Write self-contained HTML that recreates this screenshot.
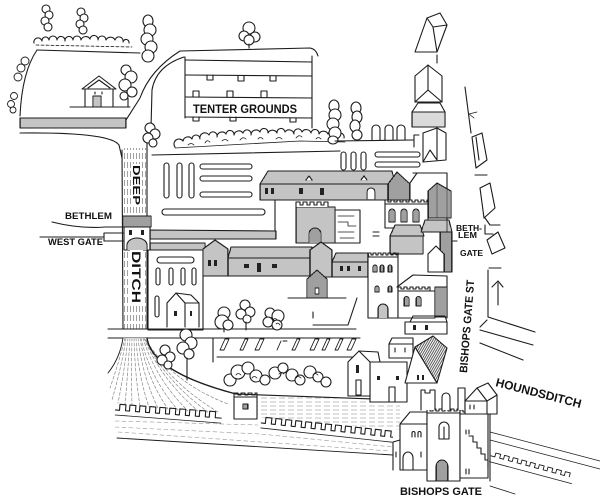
<!DOCTYPE html>
<html><head><meta charset="utf-8">
<style>
html,body{margin:0;padding:0;background:#fff;width:600px;height:504px;overflow:hidden}
svg{display:block}
.t{font-family:"Liberation Sans",Arial,sans-serif;font-weight:bold;fill:#111;stroke:none}
</style></head><body>
<svg width="600" height="504" viewBox="0 0 600 504" xmlns="http://www.w3.org/2000/svg">
<defs>
 <pattern id="hv" width="2" height="8" patternUnits="userSpaceOnUse"><rect width="2" height="8" fill="#fff"/><line x1="1" y1="0" x2="1" y2="8" stroke="#555" stroke-width="0.7"/></pattern>
 <pattern id="hd" width="2" height="8" patternUnits="userSpaceOnUse"><rect width="2" height="8" fill="#fff"/><line x1="1" y1="0" x2="1" y2="8" stroke="#2a2a2a" stroke-width="0.9"/></pattern>
 <pattern id="hf" width="2" height="8" patternUnits="userSpaceOnUse"><rect width="2" height="8" fill="#fff"/><line x1="1" y1="0" x2="1" y2="8" stroke="#3a3a3a" stroke-width="0.6"/></pattern>
 <pattern id="hx" width="2" height="8" patternUnits="userSpaceOnUse" patternTransform="rotate(30)"><rect width="2" height="8" fill="#fff"/><line x1="1" y1="0" x2="1" y2="8" stroke="#333" stroke-width="0.8"/></pattern>
 <pattern id="hdash" width="3" height="9" patternUnits="userSpaceOnUse"><rect width="3" height="9" fill="#fff"/><line x1="1.5" y1="0" x2="1.5" y2="6" stroke="#777" stroke-width="0.7"/></pattern>
 <pattern id="wl" width="9" height="4" patternUnits="userSpaceOnUse"><rect width="9" height="4" fill="#fff"/><line x1="0" y1="2" x2="6" y2="2" stroke="#999" stroke-width="0.6"/></pattern>
</defs>
<rect width="600" height="504" fill="#fff"/>
<g fill="none" stroke="#1c1c1c" stroke-width="1.1" stroke-linecap="round" stroke-linejoin="round">

<!-- top-left shrubs and trees -->
<path d="M34,43 a4,4 0 0 1 8,-2 a3,3 0 0 1 7,-1 a4,4 0 0 1 8,0 a4,4 0 0 1 8,1 a4,4 0 0 1 8,-1 a4,4 0 0 1 8,0 a5,5 0 0 1 9,-1 a4,4 0 0 1 8,1 a4,4 0 0 1 8,0 a5,5 0 0 1 9,0 a4,4 0 0 1 8,2 a3,3 0 0 1 6,1"/>
<path d="M36,45 L132,47" stroke-dasharray="3 2" stroke-width="0.8"/>
<g fill="#fff">
<circle cx="46" cy="9" r="4"/><circle cx="49" cy="15" r="4"/><circle cx="45" cy="21" r="4"/><circle cx="48" cy="27" r="4"/>
<circle cx="81" cy="12" r="4"/><circle cx="84" cy="18" r="4"/><circle cx="80" cy="24" r="4"/><circle cx="83" cy="30" r="4"/>
</g>
<path d="M37,50 L140,53"/>
<path d="M37,50 Q22,72 20,116"/>
<g fill="#fff" stroke-width="0.9">
<circle cx="25" cy="61" r="4"/><circle cx="21" cy="68" r="4"/><circle cx="18" cy="77" r="4"/><circle cx="14" cy="96" r="3.5"/><circle cx="11" cy="104" r="3.5"/><circle cx="13" cy="110" r="3"/>
</g>

<!-- house -->
<path d="M70,107 L130,107"/>
<rect x="85" y="88" width="28" height="19" fill="#fff"/>
<path d="M82,89 L99,76 L116,89 Z" fill="#fff"/>
<path d="M88,88 L99,80 L110,88"/>
<rect x="93" y="96" width="8" height="11" fill="url(#hv)"/>
<path d="M95,92 v2 M102,92 v2"/>
<g fill="#fff"><circle cx="126" cy="70" r="5"/><circle cx="131" cy="77" r="6"/><circle cx="125" cy="85" r="6"/><circle cx="132" cy="92" r="5"/><circle cx="124" cy="96" r="4"/></g>
<path d="M128,98 L128,107"/>

<!-- fence -->
<rect x="20" y="118" width="106" height="10" fill="url(#hf)"/>

<!-- roads -->
<path d="M20,133 Q110,132 119,145 L122,158"/>
<path d="M126,120 L140,98 Q150,70 180,51 L310,48 Q316,49 318,56"/>
<path d="M151,128 L152,90 Q156,66 184,57"/>
<g fill="#fff"><ellipse cx="148" cy="21" rx="5" ry="6"/><ellipse cx="150" cy="30" rx="6" ry="6"/><ellipse cx="147" cy="39" rx="6" ry="6"/><ellipse cx="151" cy="47" rx="6" ry="6"/><ellipse cx="148" cy="56" rx="6" ry="6"/></g>

<!-- ditch -->
<rect x="123" y="148" width="24" height="181" fill="url(#hdash)" stroke="none"/>
<path d="M122,150 L123,329"/>
<path d="M147,138 L147,329"/>
<g fill="#fff"><circle cx="150" cy="128" r="5"/><circle cx="155" cy="134" r="5"/><circle cx="148" cy="138" r="5"/><circle cx="153" cy="143" r="4"/></g>

<!-- gate on ditch -->
<rect x="123" y="216" width="28" height="11" fill="url(#hd)"/>
<rect x="124" y="227" width="26" height="23" fill="#fff"/>
<path d="M127,250 v-5 a10,7 0 0 1 20,0 v5" fill="url(#hv)"/>
<g fill="#222" stroke="none"><rect x="129" y="230" width="3" height="5"/><rect x="141" y="230" width="3" height="5"/></g>
<path d="M52,222 Q80,229 105,227 L123,227"/>
<path d="M40,237 L104,237 M104,233 h19 M104,241 h19 M104,233 v8"/>

<!-- tenter grounds -->
<path d="M185,57 L185,118"/>
<path d="M185,60 L312,62 M186,75 L312,76 M186,97 L312,98 M185,117 L312,118 M312,56 L312,128"/>
<path d="M207,75 v5 h6 v-5 M238,76 v5 h6 v-5 M270,76 v5 h6 v-5"/>
<path d="M193,97 v-6 h6 v6 M227,97 v-6 h6 v6 M261,97 v-6 h6 v6"/>
<path d="M193,117 v4 h6 v-4 M230,117 v4 h6 v-4 M290,118 v4 h6 v-4"/>
<g fill="#fff"><circle cx="249" cy="28" r="6"/><circle cx="244" cy="36" r="5"/><circle cx="255" cy="37" r="5"/><circle cx="249" cy="40" r="5"/></g>
<path d="M249,44 L249,48"/>

<!-- shrub row -->
<path d="M175,147 a5,5 0 0 1 8,-6 a5,5 0 0 1 9,-2 a4,4 0 0 1 8,0 a5,5 0 0 1 9,-4 a4,4 0 0 1 8,2 a5,5 0 0 1 9,-3 a4,4 0 0 1 8,1 a5,5 0 0 1 9,-2 a4,4 0 0 1 8,2 a5,5 0 0 1 9,-3 a4,4 0 0 1 8,1 a5,5 0 0 1 9,0 a4,4 0 0 1 8,-1 a5,5 0 0 1 9,2 a4,4 0 0 1 8,-2 a5,5 0 0 1 9,1 a4,4 0 0 1 8,1 a5,5 0 0 1 9,0 a4,4 0 0 1 8,2 a4,4 0 0 1 8,2"/>
<path d="M188,145 q3,-3 6,0 M205,143 q2,-4 5,-1 M222,141 q3,-3 6,0 M240,140 q3,-4 6,-1 M258,139 q2,-3 5,0 M276,139 q3,-3 6,0 M296,138 q3,-4 6,-1 M316,139 q2,-3 5,0" stroke-width="0.8"/>
<path d="M175,148 L300,141 L345,142" stroke-width="0.8"/>
<g fill="#fff">
<ellipse cx="334" cy="106" rx="5" ry="6"/><ellipse cx="335" cy="115" rx="6" ry="6"/><ellipse cx="333" cy="124" rx="6" ry="6"/><ellipse cx="335" cy="133" rx="6" ry="6"/><ellipse cx="333" cy="140" rx="5" ry="4"/>
<ellipse cx="356" cy="108" rx="5" ry="6"/><ellipse cx="357" cy="117" rx="5" ry="6"/><ellipse cx="355" cy="126" rx="5" ry="6"/><ellipse cx="357" cy="135" rx="5" ry="5"/>
</g>
<path d="M372,140 v-11 a4,4 0 0 1 8,0 v11 M385,140 v-11 a4,4 0 0 1 8,0 v11 M397,140 v-11 a4,4 0 0 1 8,0 v11"/>
<path d="M335,141 L413,140"/>
<path d="M414,147 v-12 h5"/>
<path d="M152,155 L340,151"/>
<rect x="375" y="152" width="45" height="5" rx="2.5"/>
<rect x="375" y="162" width="45" height="5" rx="2.5"/>
<rect x="341" y="152" width="5" height="18" rx="2.5"/>
<rect x="351" y="152" width="5" height="18" rx="2.5"/>
<rect x="361" y="152" width="5" height="18" rx="2.5"/>

<!-- left field -->
<rect x="164" y="163" width="5" height="35" rx="2.5"/>
<rect x="177" y="163" width="5" height="35" rx="2.5"/>
<rect x="189" y="163" width="5" height="35" rx="2.5"/>
<rect x="200" y="164" width="52" height="5" rx="2.5"/>
<rect x="200" y="176" width="52" height="5" rx="2.5"/>
<rect x="200" y="192" width="52" height="5" rx="2.5"/>
<rect x="162" y="209" width="103" height="6" rx="3"/>
<path d="M275,200 L275,231"/>
<path d="M150,230 L276,231 L276,239 L150,239 Z" fill="url(#hv)"/>
<path d="M150,243 L205,243 L205,250 L150,250 Z" fill="url(#hv)"/>

<!-- big building -->
<path d="M260,184 L268,171 L392,171 L395,184 Z" fill="url(#hv)"/>
<rect x="260" y="184" width="128" height="16" fill="url(#hv)"/>
<path d="M388,200 L388,184 L397,172 L410,184 L410,200 Z" fill="url(#hd)"/>
<g fill="#222" stroke="none"><rect x="265" y="188" width="3" height="6"/><rect x="271" y="188" width="3" height="6"/><rect x="299" y="188" width="4" height="6"/><rect x="320" y="188" width="4" height="7"/></g>
<path d="M367,199 v-7 a4,4 0 0 1 8,0 v7" fill="#fff"/>
<path d="M306,180 l3,-4 l3,4 M361,180 l3,-4 l3,4" fill="#fff"/>

<!-- gatehouse -->
<rect x="296" y="207" width="39" height="36" fill="url(#hv)"/>
<path d="M296,207 v-5 h4 v3 h3 v-3 h4 v3 h3 v-3 h4 v3 h3 v-3 h4 v3 h3 v-3 h4 v5" fill="#fff"/>
<path d="M309,243 v-9 a6,6 0 0 1 12,0 v9" fill="url(#hd)"/>
<rect x="335" y="210" width="25" height="33" fill="#fff"/>
<path d="M338,216 h16 M338,222 h10 v4 h8 M338,232 h16 M340,238 h14" stroke-width="0.8"/>

<!-- crenellated church -->
<rect x="385" y="204" width="43" height="24" fill="#fff"/>
<path d="M385,204 v-4 h3 v2 h3 v-2 h3 v2 h3 v-2 h3 v2 h3 v-2 h3 v2 h3 v-2 h3 v2 h3 v-2 h3 v2 h3 v-2 h3 v2 h3 v-2 h1 v4"/>
<path d="M389,222 v-10 a3,3 0 0 1 6,0 v10 z M401,222 v-10 a3,3 0 0 1 6,0 v10 z M413,222 v-10 a3,3 0 0 1 6,0 v10 z" fill="url(#hd)"/>
<path d="M428,218 L428,191 L437,183 L451,191 L451,218 Z" fill="url(#hd)"/>
<path d="M437,183 L437,218"/>
<path d="M373,232 h6 M373,236 h6"/>
<path d="M390,236 L395,225 L420,225 L424,236 Z" fill="url(#hv)"/>
<rect x="390" y="236" width="33" height="18" fill="url(#hv)"/>
<path d="M421,232 L425,220 L449,220 L452,232 Z" fill="url(#hv)"/>
<path d="M440,232 L452,232 L452,272 L440,272 Z" fill="url(#hd)"/>
<path d="M428,272 L428,254 L436,246 L444,254 L444,272 Z" fill="#fff"/>
<path d="M413,173 L447,173 M410,183 L417,173 M447,173 L447,232"/>

<!-- long building -->
<path d="M203,276 L203,249 L215,240 L228,249 L228,276 Z" fill="url(#hv)"/>
<path d="M228,258 L231,247 L312,247 L312,258 Z" fill="url(#hv)"/>
<rect x="228" y="258" width="82" height="18" fill="url(#hv)"/>
<path d="M310,277 L310,250 L321,242 L332,250 L332,277 Z" fill="url(#hv)"/>
<path d="M332,262 L336,253 L368,253 L370,262 Z" fill="url(#hv)"/>
<rect x="332" y="262" width="38" height="15" fill="url(#hv)"/>
<g fill="#222" stroke="none"><rect x="208" y="260" width="3" height="6"/><rect x="214" y="260" width="3" height="6"/><rect x="244" y="264" width="5" height="4"/><rect x="257" y="263" width="4" height="9"/><rect x="272" y="264" width="5" height="4"/><rect x="340" y="266" width="3" height="5"/><rect x="347" y="266" width="3" height="5"/><rect x="358" y="266" width="3" height="5"/></g>
<path d="M307,298 L307,279 L317,270 L327,279 L327,298 Z" fill="url(#hd)"/>
<rect x="315" y="288" width="4" height="6" fill="#fff"/>
<path d="M288,298 L346,298"/>

<!-- left white building -->
<rect x="148" y="250" width="55" height="80" fill="#fff"/>
<rect x="157" y="257" width="37" height="6" rx="3"/>
<rect x="156" y="268" width="4" height="17" rx="2"/><rect x="169" y="268" width="4" height="17" rx="2"/><rect x="181" y="268" width="4" height="17" rx="2"/><rect x="192" y="268" width="4" height="17" rx="2"/>
<rect x="155" y="296" width="4" height="21" rx="2"/>
<path d="M167,327 V303 L176,293 L185,303 V327 M176,293 L191,295 L199,303 V327 M185,303 H199"/>
<g fill="#222" stroke="none"><rect x="174" y="311" width="3" height="5"/><rect x="190" y="311" width="2" height="5"/></g>

<!-- tower & church -->
<rect x="368" y="257" width="30" height="61" fill="#fff"/>
<path d="M368,257 v-4 h3 v2 h2 v-2 h3 v2 h2 v-2 h3 v2 h2 v-2 h3 v2 h2 v-2 h3 v2 h2 v-2 h3 v2 h2 v-2 v4"/>
<path d="M373,272 v-5 a2,2 0 0 1 4,0 v5 z M380,272 v-5 a2,2 0 0 1 4,0 v5 z M388,272 v-5 a2,2 0 0 1 4,0 v5 z M375,292 v-4 a2,2 0 0 1 4,0 v4 z M388,292 v-4 a2,2 0 0 1 4,0 v4 z" fill="url(#hd)"/>
<path d="M378,318 v-9 a5,5 0 0 1 10,0 v9" fill="url(#hv)"/>
<path d="M397,287 L413,275 L447,276 L447,318"/>
<rect x="398" y="291" width="37" height="27" fill="#fff"/>
<path d="M398,291 v-4 h3 v2 h3 v-2 h3 v2 h3 v-2 h3 v2 h3 v-2 h3 v2 h3 v-2 h3 v2 h3 v-2 h2 v4"/>
<path d="M404,306 v-7 a2.5,2.5 0 0 1 5,0 v7 z M416,306 v-7 a2.5,2.5 0 0 1 5,0 v7 z" fill="url(#hd)"/>
<path d="M435,287 L447,287 L447,317 L435,317 Z" fill="url(#hd)"/>

<!-- field lines -->
<path d="M357,298 L348,325 L313,325 M313,312 v6"/>
<path d="M108,329 L356,329"/>
<path d="M108,338 L360,338"/>
<path d="M213,338 L213,362 M217,357 L353,357"/>
<path d="M220,350 l5,-11 h4 l-5,11 z M240,350 l5,-11 h3 l-5,11 z M255,350 l5,-11 h4 l-5,11 z M277,350 l4,-9 M283,341 h4 M292,350 l5,-11 h3 l-5,11 z M310,350 l5,-11 h4 l-5,11 z M322,350 l5,-11 h3 l-5,11 z M335,350 l5,-11 h3 l-5,11 z M347,350 l5,-11 h4 l-5,11 z" stroke-width="0.9"/>

<!-- trees mid -->
<g fill="#fff">
<ellipse cx="224" cy="313" rx="6" ry="6"/><ellipse cx="222" cy="322" rx="7" ry="7"/><ellipse cx="228" cy="325" rx="5" ry="5"/>
<circle cx="245" cy="305" r="5"/><circle cx="250" cy="312" r="5"/><circle cx="241" cy="314" r="5"/><circle cx="247" cy="319" r="4"/>
<circle cx="270" cy="313" r="5"/><circle cx="278" cy="316" r="6"/><circle cx="268" cy="322" r="5"/><circle cx="277" cy="325" r="5"/>
</g>
<path d="M246,322 L246,330 M224,330 L224,332"/>
<path d="M273,320 q2,-3 4,0 M276,324 q2,-2 4,1" stroke-width="0.8"/>

<!-- moat fan -->
<path d="M123,338 Q118,360 108,374 L112,404 L222,414 L236,396 Q170,385 148,340 L147,338 Z" fill="#fff" stroke="none"/>
<g stroke="#888" stroke-width="0.7" stroke-dasharray="3 2">
<path d="M125,338 Q119,362 110,388"/><path d="M126,338 Q122,365 112,400"/><path d="M128,338 Q125,368 118,403"/><path d="M130,338 Q128,370 125,405"/><path d="M132,338 Q131,372 132,405"/><path d="M134,338 Q135,375 140,406"/><path d="M136,338 Q138,375 149,407"/><path d="M138,338 Q142,375 158,408"/><path d="M140,338 Q146,377 168,409"/><path d="M141,338 Q150,378 178,410"/><path d="M143,338 Q155,378 188,411"/><path d="M144,338 Q160,378 198,411"/><path d="M145,339 Q164,380 208,412"/><path d="M146,340 Q168,382 218,412"/><path d="M147,342 Q175,384 228,404"/>
</g>
<path d="M147,338 Q152,372 236,394" stroke-width="1.4"/>
<path d="M123,338 Q120,358 108,373" stroke-width="0.9"/>
<g fill="#fff">
<circle cx="165" cy="350" r="5"/><circle cx="170" cy="357" r="5"/><circle cx="162" cy="360" r="5"/><circle cx="168" cy="365" r="4"/>
<circle cx="186" cy="335" r="6"/><circle cx="191" cy="343" r="6"/><circle cx="183" cy="348" r="6"/><circle cx="189" cy="354" r="5"/>
</g>
<path d="M187,358 L187,380"/>
<g fill="#fff">
<circle cx="230" cy="380" r="6"/><circle cx="238" cy="372" r="7"/><circle cx="248" cy="368" r="6"/><circle cx="256" cy="376" r="6"/><circle cx="265" cy="380" r="5"/><circle cx="275" cy="373" r="6"/><circle cx="283" cy="368" r="5"/><circle cx="292" cy="375" r="6"/><circle cx="300" cy="380" r="5"/><circle cx="310" cy="372" r="6"/><circle cx="318" cy="377" r="5"/><circle cx="326" cy="382" r="5"/>
</g>
<path d="M236,375 q2,-3 5,0 M252,378 q2,-3 5,0 M279,374 q3,-3 5,0 M296,378 q2,-3 5,0 M313,375 q2,-3 5,0" stroke-width="0.8"/>

<!-- walls -->
<path d="M236,394 L400,400 L400,430 L262,418 Z" fill="url(#wl)" stroke="none"/>
<path d="M236,394 L400,400"/>
<g transform="translate(116,404) rotate(4.4)"><path d="M0,6 h4 v-6 h6 v6 h4 v-6 h6 v6 h4 v-6 h6 v6 h4 v-6 h6 v6 h4 v-6 h6 v6 h4 v-6 h6 v6 h4 v-6 h6 v6 h4 v-6 h6 v6 h4 v-6 h6 v6 h4 v-6 h6 v6 h6" fill="#fff"/><path d="M0,11 L106,11" stroke-width="0.8"/></g>
<rect x="234" y="397" width="23" height="22" fill="#fff"/>
<path d="M234,397 v-4 h4 v2 h3 v-2 h4 v2 h3 v-2 h4 v2 h3 v-2 h2 v4"/>
<rect x="243" y="404" width="5" height="5" fill="url(#hd)"/>
<g transform="translate(262,417) rotate(6.2)"><path d="M0,6 h4 v-6 h6 v6 h4 v-6 h6 v6 h4 v-6 h6 v6 h4 v-6 h6 v6 h4 v-6 h6 v6 h4 v-6 h6 v6 h4 v-6 h6 v6 h4 v-6 h6 v6 h4 v-6 h6 v6 h4 v-6 h6 v6 h4 v-6 h6 v6 h4 v-6 h6 v6 h4 v-6 h6 v6 h2" fill="#fff"/><path d="M0,11 L132,11" stroke-width="0.8"/></g>
<g stroke="#999" stroke-width="0.6" stroke-dasharray="4 3">
<path d="M115,421 L258,425"/><path d="M115,427 L260,434 L393,447"/><path d="M118,432 L390,451"/>
</g>
<path d="M117,438 L393,455" stroke-width="0.9"/>

<!-- houses lower right -->
<rect x="405" y="322" width="42" height="12" fill="#fff"/>
<path d="M410,322 L413,316 L445,316 L447,322"/>
<g fill="#222" stroke="none"><rect x="413" y="325" width="3" height="5"/><rect x="425" y="325" width="3" height="5"/></g>
<rect x="389" y="344" width="24" height="14" fill="#fff"/>
<path d="M389,344 L392,338 L413,338 L413,344 M395,348 v4 M405,348 v4"/>
<rect x="370" y="362" width="37" height="40" fill="#fff"/>
<path d="M348,396 V362 L359,351 L370,362 V396 Z" fill="#fff"/>
<path d="M359,351 L378,352 L380,362"/>
<g fill="#222" stroke="none"><rect x="356" y="365" width="3" height="8"/><rect x="377" y="376" width="3" height="4"/><rect x="396" y="376" width="3" height="4"/></g>
<rect x="356" y="380" width="5" height="15"/>
<rect x="389" y="387" width="6" height="15"/>
<path d="M405,383 L415,347 L437,383 Z" fill="#fff"/>
<path d="M415,347 L433,336 L447,348 L437,383 Z" fill="url(#hx)"/>
<g fill="#222" stroke="none"><rect x="417" y="375" width="2" height="5"/><rect x="422" y="375" width="2" height="5"/></g>

<!-- Bishops Gate -->
<path d="M393,470 L393,442 L400,440"/>
<rect x="400" y="424" width="27" height="46" fill="#fff"/>
<path d="M400,424 L410,412 L427,412 L427,424 Z" fill="#fff"/>
<path d="M412,437 v-4 a1.5,1.5 0 0 1 3,0 v4 M418,437 v-4 a1.5,1.5 0 0 1 3,0 v4 M396,452 v5 M421,452 v5"/>
<path d="M403,470 v-12 a5,6 0 0 1 10,0 v12"/>
<rect x="427" y="413" width="33" height="68" fill="#fff"/>
<path d="M427,413 v-4 h3 v2 h3 v-2 h3 v2 h3 v-2 h3 v2 h3 v-2 h3 v2 h3 v-2 h3 v2 h3 v-2 h3 v4"/>
<path d="M439,439 v-12 a5,5 0 0 1 10,0 v12 z M444,427 v12"/>
<path d="M436,481 v-14 a6,7 0 0 1 12,0 v14 z" fill="url(#hd)"/>
<rect x="460" y="414" width="28" height="64" fill="#fff"/>
<path d="M460,414 v-4 h3 v2 h3 v-2 h3 v2 h3 v-2 h3 v2 h3 v-2 h3 v2 h3 v-2 h3 v4"/>
<path d="M469,436 h4 v6 h4 v6 h4 v6 h4 v6 h3 v8"/>
<path d="M466,434 v-4 M469,434 v-4 M466,474 v-5 M469,474 v-5"/>
<path d="M421,410 L421,390 L425,390 L425,393 L430,393 L430,390 L435,390 L435,410" fill="#fff"/>
<path d="M442,410 v-13 a4,4 0 0 1 8,0 v13" fill="#fff"/>
<path d="M458,410 v-22 h7 v22" fill="#fff"/>
<path d="M465,414 L465,401 L477,388 L488,383 L497,395 L497,414 Z" fill="#fff"/>
<path d="M477,388 L487,401 L497,395 M487,401 L487,414 M465,401 L487,401 M470,405 v4 M474,405 v4"/>
<path d="M490,414 L490,481"/>
<path d="M490,432 L600,461" stroke-width="0.8"/>
<path d="M490,440 L600,469" stroke-width="0.8"/>
<g transform="translate(492,452) rotate(15)"><path d="M0,4 h4 v-4 h5 v4 h4 v-4 h5 v4 h4 v-4 h5 v4 h4 v-4 h5 v4 h4 v-4 h5 v4 h4 v-4 h5 v4 h4 v-4 h5 v4 h4 v-4 h5 v4 h4 v-4 h5 v4" stroke-width="0.9"/><path d="M0,10 L85,10" stroke-width="0.8"/></g>
<path d="M490,486 L515,494" stroke-width="0.8"/>

<!-- top right houses -->
<path d="M415,52 L427,18 L440,13 L447,25 L437,52 Z" fill="#fff"/>
<path d="M427,18 L433,27 L447,25 M433,27 L437,52"/>
<path d="M437,55 L437,63"/>
<path d="M415,102 V76 L428,65 L442,76 V102 Z" fill="#fff"/>
<path d="M415,102 L428,90 L442,102 M428,65 L428,90"/>
<path d="M412,112 L418,103 L440,103 L445,112 Z" fill="#fff"/>
<rect x="412" y="112" width="33" height="15" fill="url(#hv)" opacity="0.6"/>
<path d="M412,112 v15 h33 v-15"/>
<path d="M423,162 V133 L437,128 L446,133 V160 Z" fill="#fff"/>
<path d="M437,128 L437,160 M423,162 L430,150 L437,160"/>

<!-- right street -->
<path d="M465,87 L471,133"/>
<path d="M477,112 L469,114 L474,118" stroke-width="0.8"/>
<path d="M472,137 L482,133 L487,160 L476,168 Z M476,137 L479,160"/>
<path d="M475,175 L487,175"/>
<path d="M480,188 L490,183 L495,208 L484,218 Z"/>
<path d="M485,218 L490,225 L500,225 M485,225 L485,234 L493,234"/>
<path d="M487,240 L498,232 L505,248 L492,254 Z"/>
<path d="M489,268 L501,268 M488,270 L488,317"/>
<path d="M492,287 L498,281 L503,287 M498,283 L498,305"/>
<path d="M488,317 L535,332 M480,330 L533,345 M480,343 L523,360 M480,327 L487,320"/>
<path d="M453,241 h4"/>
</g>

<!-- labels -->
<text class="t" x="193" y="113" font-size="11.5" textLength="104" lengthAdjust="spacingAndGlyphs">TENTER GROUNDS</text>
<text class="t" x="65" y="219" font-size="9" textLength="47" lengthAdjust="spacingAndGlyphs">BETHLEM</text>
<text class="t" x="48" y="245" font-size="9.5" textLength="55" lengthAdjust="spacingAndGlyphs">WEST GATE</text>
<rect x="131" y="164" width="11" height="42" fill="#fff"/>
<text class="t" transform="translate(133,165) rotate(90)" font-size="10" textLength="40" lengthAdjust="spacingAndGlyphs">DEEP</text>
<rect x="130" y="250" width="13" height="54" fill="#fff"/>
<text class="t" transform="translate(132,251) rotate(90)" font-size="12" textLength="52" lengthAdjust="spacingAndGlyphs">DITCH</text>
<text class="t" x="456" y="231" font-size="8.5" textLength="26" lengthAdjust="spacingAndGlyphs">BETH-</text>
<text class="t" x="458" y="238" font-size="8.5" textLength="19" lengthAdjust="spacingAndGlyphs">LEM</text>
<text class="t" x="460" y="256" font-size="8.5" textLength="23" lengthAdjust="spacingAndGlyphs">GATE</text>
<text class="t" transform="translate(467,373) rotate(-85.5)" font-size="11" textLength="93" lengthAdjust="spacingAndGlyphs">BISHOPS GATE ST</text>
<text class="t" transform="translate(495,386) rotate(14.5)" font-size="12" textLength="88" lengthAdjust="spacingAndGlyphs">HOUNDSDITCH</text>
<text class="t" x="400" y="495" font-size="11" textLength="82" lengthAdjust="spacingAndGlyphs">BISHOPS GATE</text>
</svg>
</body></html>
